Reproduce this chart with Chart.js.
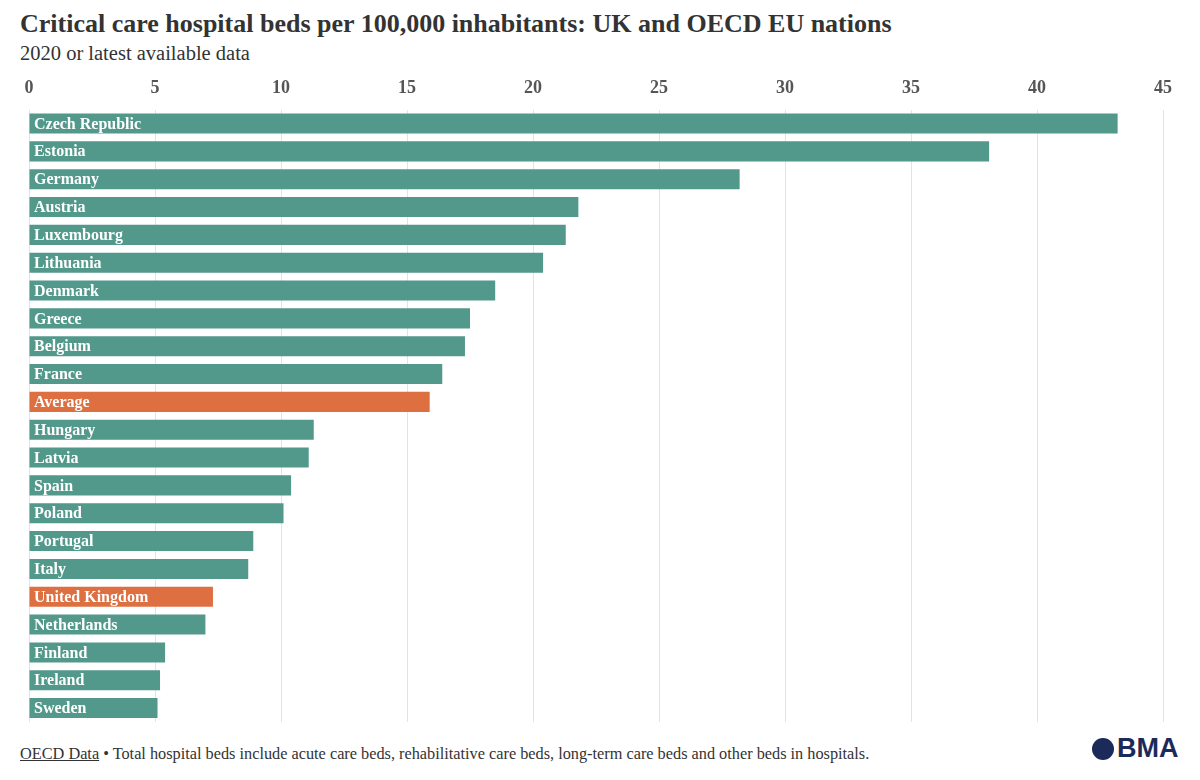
<!DOCTYPE html>
<html><head><meta charset="utf-8">
<script src="https://cdn.jsdelivr.net/npm/chart.js@4/dist/chart.umd.min.js"></script>
<style>
body{margin:0;background:#fff;font-family:"Liberation Serif",serif;}
#wrap{position:relative;width:1200px;height:780px;}
h1{position:absolute;left:20px;top:9px;margin:0;font-size:26px;font-weight:bold;color:#333;}
#sub{position:absolute;left:20px;top:42px;font-size:20.5px;color:#333;}
#cv{position:absolute;left:0;top:68px;width:1200px;height:654px;}
#foot{position:absolute;left:20px;top:744px;font-size:16.3px;color:#333;}
#foot u{text-decoration:underline;}
#logo{position:absolute;left:1092px;top:733px;font-family:"Liberation Sans",sans-serif;font-weight:bold;font-size:27px;color:#1c2a5a;display:flex;align-items:center;gap:3px;}
#logo span.c{display:inline-block;width:22px;height:22px;border-radius:50%;background:#1c2a5a;}
</style></head><body>
<div id="wrap">
<h1>Critical care hospital beds per 100,000 inhabitants: UK and OECD EU nations</h1>
<div id="sub">2020 or latest available data</div>
<canvas id="cv" width="1200" height="654"></canvas>
<div id="foot"><u>OECD Data</u> • Total hospital beds include acute care beds, rehabilitative care beds, long-term care beds and other beds in hospitals.</div>
<div id="logo"><span class="c"></span>BMA</div>
</div>
<script>
const paises = ['Czech Republic','Estonia','Germany','Austria','Luxembourg','Lithuania','Denmark','Greece','Belgium','France','Average','Hungary','Latvia','Spain','Poland','Portugal','Italy','United Kingdom','Netherlands','Finland','Ireland','Sweden'];
const camas = [43.2,38.1,28.2,21.8,21.3,20.4,18.5,17.5,17.3,16.4,15.9,11.3,11.1,10.4,10.1,8.9,8.7,7.3,7.0,5.4,5.2,5.1];
const destacados = ['Average','United Kingdom'];

const colores = paises.map(p => destacados.includes(p) ? '#dd6f40' : '#52998b');

const etiquetasInternas = {
    id: 'etiquetasInternas',
    afterDatasetsDraw(chart) {
        const ctx = chart.ctx;
        const meta = chart.getDatasetMeta(0);
        ctx.save();
        ctx.fillStyle = '#fff';
        ctx.font = 'bold 16px "Liberation Serif", serif';
        ctx.textBaseline = 'middle';
        meta.data.forEach((bar, i) => {
            ctx.fillText(paises[i], chart.scales.x.left + 5, bar.y + 1);
        });
        ctx.restore();
    }
};

new Chart(document.getElementById('cv'), {
    type: 'bar',
    data: {
        labels: paises,
        datasets: [{ data: camas, backgroundColor: colores, categoryPercentage: 1, barPercentage: 0.72 }]
    },
    options: {
        indexAxis: 'y',
        responsive: false,
        animation: false,
        layout: { padding: { left: 29, right: 37, top: 0, bottom: 0 } },
        plugins: { legend: { display: false }, tooltip: { enabled: false } },
        scales: {
            x: {
                position: 'top', min: 0, max: 45,
                ticks: { stepSize: 5, color: '#555', font: { family: '"Liberation Serif", serif', size: 18, weight: 'bold' }, padding: 10 },
                grid: { color: '#e3e3e3', drawTicks: false },
                border: { display: false }
            },
            y: { display: false, grid: { display: false } }
        }
    },
    plugins: [etiquetasInternas]
});
</script>
</body></html>
